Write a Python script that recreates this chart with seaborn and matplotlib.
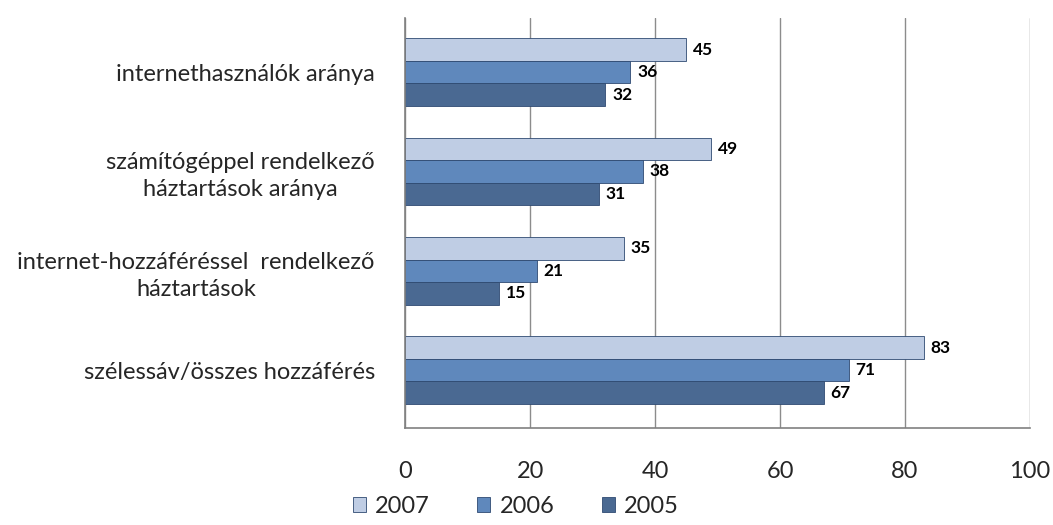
import numpy as np
import pandas as pd
import seaborn as sns
import matplotlib.pyplot as plt

# categories top to bottom
categories = [
    "internethasználók aránya",
    "számítógéppel rendelkező\nháztartások aránya",
    "internet-hozzáféréssel  rendelkező\nháztartások",
    "szélessáv/összes hozzáférés",
]
years = ["2007", "2006", "2005"]
vals_2007 = [45, 49, 35, 83]
vals_2006 = [36, 38, 21, 71]
vals_2005 = [32, 31, 15, 67]
colors = ["#B9CBEA", "#4F86CC", "#3E679E"]
xticks = [0, 20, 40, 60, 80, 100]

df = pd.DataFrame({
    "kategoria": categories * 3,
    "ev": [y for y in years for _ in categories],
    "ertek": vals_2007 + vals_2006 + vals_2005,
})

sns.set_style("white")
plt.rcParams["font.family"] = ["Lato", "DejaVu Sans"]

fig = plt.figure(figsize=(10.53, 5.25), dpi=100)
ax = fig.add_axes([0.385, 0.185, 0.593, 0.78])

sns.barplot(data=df, y="kategoria", x="ertek", hue="ev", hue_order=years,
            order=categories, palette=colors, width=0.68, orient="h",
            edgecolor="#2F4A72", linewidth=0.6, ax=ax, legend=True)

# value labels
for cont in ax.containers:
    ax.bar_label(cont, fmt="%d", padding=5, fontsize=12.5, fontweight="bold",
                 color="black")

ax.set_xlim(0, 100)
ax.set_xticks(xticks)
ax.set_xticklabels([str(t) for t in xticks], fontsize=17)
ax.tick_params(axis="x", pad=18, length=6, color="#808080", direction="out")
ax.tick_params(axis="y", labelsize=17, length=0, pad=22)
ax.set_ylim(3.58, -0.54)
ax.set_yticks(np.arange(len(categories)))
ax.set_yticklabels(categories, fontsize=17, ha="right", multialignment="center",
                   linespacing=1.35)
# separators between groups on the left axis
ax.set_yticks(np.arange(len(categories)) + 0.5, minor=True)
ax.tick_params(axis="y", which="minor", length=6, color="#808080", direction="out")

ax.xaxis.grid(True, color="#8C8C8C", linewidth=1)
ax.set_axisbelow(True)
for side in ["top", "right"]:
    ax.spines[side].set_visible(False)
for side in ["left", "bottom"]:
    ax.spines[side].set_color("#808080")
    ax.spines[side].set_linewidth(1.2)
ax.set_xlabel("")
ax.set_ylabel("")

handles, labels = ax.get_legend_handles_labels()
ax.get_legend().remove()
fig.legend(handles, labels, loc="lower center", bbox_to_anchor=(0.49, -0.025),
           ncol=3, frameon=False, fontsize=17, handlelength=0.55,
           handleheight=0.55, columnspacing=2.0, handletextpad=0.4)

fig.savefig("out.png", dpi=100)
